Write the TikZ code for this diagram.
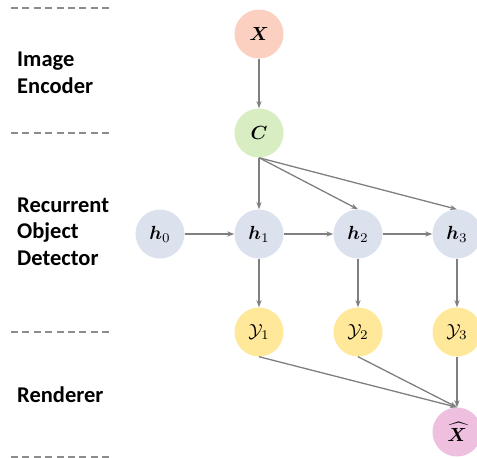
\documentclass[tikz,border=0pt]{standalone}
\usepackage{amsmath,bm}
\usepackage{graphicx}
\usepackage{fontspec}
\setmainfont{Carlito}
\usetikzlibrary{arrows.meta}
\definecolor{cX}{HTML}{FBD0C0}
\definecolor{cC}{HTML}{D9EDC2}
\definecolor{cH}{HTML}{DCE1EE}
\definecolor{cY}{HTML}{FFE89A}
\definecolor{cXh}{HTML}{EEBFDF}
\definecolor{edge}{HTML}{7F7F7F}
\newcommand{\varlabel}[1]{\scalebox{1.9}{$#1$}}
\tikzset{
  var/.style={circle, minimum size=49pt, inner sep=0pt},
  conn/.style={draw=edge, line width=1.3pt, -{Stealth[length=7pt,width=5pt]}},
  sep/.style={draw=edge!90, line width=1.2pt, dash pattern=on 7pt off 4.4pt},
  lbl/.style={anchor=north west, align=left, inner sep=0pt, font=\fontsize{22.5}{26.5}\selectfont\bfseries}
}
\begin{document}
\begin{tikzpicture}[x=1pt,y=-1pt]
\useasboundingbox (0,0) rectangle (477,458);
% separators
\coordinate (s1a) at (11,8);   \coordinate (s1b) at (112,8);
\coordinate (s2a) at (11,133); \coordinate (s2b) at (112,133);
\coordinate (s3a) at (11,332); \coordinate (s3b) at (112,332);
\coordinate (s4a) at (11,457); \coordinate (s4b) at (112,457);
\draw[sep] (s1a) -- (s1b);
\draw[sep] (s2a) -- (s2b);
\draw[sep] (s3a) -- (s3b);
\draw[sep] (s4a) -- (s4b);
% labels
\node[lbl] (lenc) at (17,52) {Image\\Encoder};
\node[lbl] (lrod) at (17,197.5) {Recurrent\\Object\\Detector};
\node[lbl] (lren) at (17,387) {Renderer};
% variables
\node[var, fill=cX] (X) at (259,34) {\varlabel{\boldsymbol{X}}};
\node[var, fill=cC] (C) at (259,133) {\varlabel{\boldsymbol{C}}};
\node[var, fill=cH] (h0) at (160,234) {\varlabel{\boldsymbol{h}_0}};
\node[var, fill=cH] (h1) at (259,234) {\varlabel{\boldsymbol{h}_1}};
\node[var, fill=cH] (h2) at (358,234) {\varlabel{\boldsymbol{h}_2}};
\node[var, fill=cH] (h3) at (457,234) {\varlabel{\boldsymbol{h}_3}};
\node[var, fill=cY] (y1) at (259,332) {\varlabel{\mathcal{Y}_1}};
\node[var, fill=cY] (y2) at (358,332) {\varlabel{\mathcal{Y}_2}};
\node[var, fill=cY] (y3) at (457,332) {\varlabel{\mathcal{Y}_3}};
\node[var, fill=cXh] (Xh) at (457,432) {\varlabel{\widehat{\boldsymbol{X}}}};
% connectors
\draw[conn] (X) -- (C);
\draw[conn] (C) -- (h1);
\draw[conn] (C.south) -- (h2.north);
\draw[conn] (C.south) -- (h3.north);
\draw[conn] (h0) -- (h1);
\draw[conn] (h1) -- (h2);
\draw[conn] (h2) -- (h3);
\draw[conn] (h1) -- (y1);
\draw[conn] (h2) -- (y2);
\draw[conn] (h3) -- (y3);
\draw[conn] (y1.south) -- (Xh.north);
\draw[conn] (y2.south) -- (Xh.north);
\draw[conn] (y3) -- (Xh);
\end{tikzpicture}
\end{document}
